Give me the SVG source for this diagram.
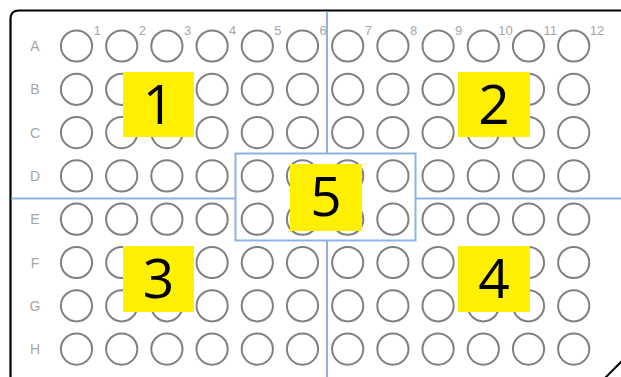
<svg xmlns="http://www.w3.org/2000/svg" width="621" height="377" viewBox="0 0 621 377">
<style>
.well{fill:none;stroke:#808080;stroke-width:2}
.rl{font-family:"Liberation Sans",Arial,sans-serif;font-size:14px;fill:#a6a6a6;text-anchor:middle}
.cl{font-family:"Liberation Sans",Arial,sans-serif;font-size:13px;fill:#a6a6a6}
.blue{stroke:#8db3e2;stroke-width:2;fill:none}
.ybox{fill:#ffef00}
.num{font-family:"Open Sans","Liberation Sans",sans-serif;font-size:55px;fill:#000;text-anchor:middle}
</style>
<rect width="621" height="377" fill="#fff"/>
<g id="plate">
<path d="M10.5 378 V19 Q10.5 10.5 19 10.5 H622" fill="none" stroke="#000" stroke-width="2.2"/>
<path d="M605 378 L622 361" fill="none" stroke="#000" stroke-width="2"/>
</g>
<g id="wells">
<defs><g id="row">
<circle class="well" cx="76.5" cy="0" r="15.6"/>
<circle class="well" cx="121.7" cy="0" r="15.6"/>
<circle class="well" cx="166.9" cy="0" r="15.6"/>
<circle class="well" cx="212.1" cy="0" r="15.6"/>
<circle class="well" cx="257.3" cy="0" r="15.6"/>
<circle class="well" cx="302.5" cy="0" r="15.6"/>
<circle class="well" cx="347.7" cy="0" r="15.6"/>
<circle class="well" cx="392.9" cy="0" r="15.6"/>
<circle class="well" cx="438.1" cy="0" r="15.6"/>
<circle class="well" cx="483.3" cy="0" r="15.6"/>
<circle class="well" cx="528.5" cy="0" r="15.6"/>
<circle class="well" cx="573.7" cy="0" r="15.6"/>
</g></defs>
<use href="#row" y="46"/>
<use href="#row" y="89.3"/>
<use href="#row" y="132.6"/>
<use href="#row" y="175.9"/>
<use href="#row" y="219.2"/>
<use href="#row" y="262.5"/>
<use href="#row" y="305.8"/>
<use href="#row" y="349.1"/>
</g>
<g id="row-labels">
<text class="rl" x="35" y="51">A</text>
<text class="rl" x="35" y="94.3">B</text>
<text class="rl" x="35" y="137.6">C</text>
<text class="rl" x="35" y="180.9">D</text>
<text class="rl" x="35" y="224.2">E</text>
<text class="rl" x="35" y="267.5">F</text>
<text class="rl" x="35" y="310.8">G</text>
<text class="rl" x="35" y="354.1">H</text>
</g>
<g id="col-labels">
<text class="cl" x="93.5" y="35">1</text>
<text class="cl" x="138.7" y="35">2</text>
<text class="cl" x="183.9" y="35">3</text>
<text class="cl" x="229.1" y="35">4</text>
<text class="cl" x="274.3" y="35">5</text>
<text class="cl" x="319.5" y="35">6</text>
<text class="cl" x="364.7" y="35">7</text>
<text class="cl" x="409.9" y="35">8</text>
<text class="cl" x="455.1" y="35">9</text>
<text class="cl" x="498.3" y="35">10</text>
<text class="cl" x="543.5" y="35">11</text>
<text class="cl" x="589.7" y="35">12</text>
</g>
<g id="connectors">
<path class="blue" d="M327 11.5 V153.5 M327 240.5 V377 M11.5 198.5 H235.5 M415.5 198.5 H621"/>
</g>
<g id="node-5-region">
<rect class="blue" x="235.5" y="153.5" width="180" height="87"/>
</g>
<g id="label-1"><rect class="ybox" x="123" y="72" width="71" height="65"/><text class="num" x="158.5" y="124">1</text></g>
<g id="label-2"><rect class="ybox" x="458" y="72" width="72" height="65"/><text class="num" x="494" y="124">2</text></g>
<g id="label-3"><rect class="ybox" x="123" y="246" width="71" height="66"/><text class="num" x="158.5" y="298">3</text></g>
<g id="label-4"><rect class="ybox" x="458" y="246" width="72" height="66"/><text class="num" x="494" y="298">4</text></g>
<g id="label-5"><rect class="ybox" x="290" y="164" width="72" height="67"/><text class="num" x="326" y="216">5</text></g>
</svg>
